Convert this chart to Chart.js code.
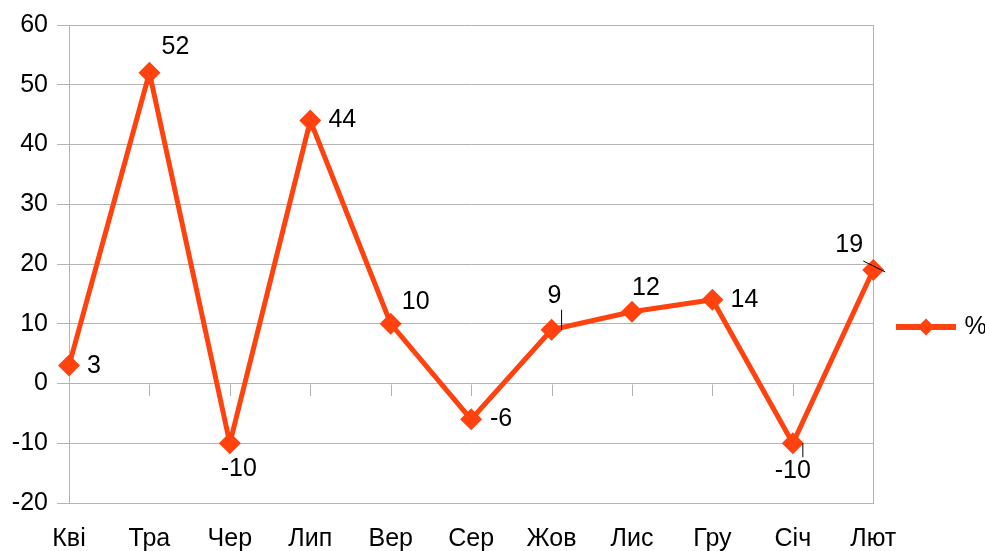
<!DOCTYPE html>
<html>
<head>
<meta charset="utf-8">
<script src="https://cdn.jsdelivr.net/npm/chart.js@4.4.1/dist/chart.umd.min.js"></script>
<style>
  html, body { margin: 0; padding: 0; background: #fff; }
  #wrap { width: 985px; height: 551px; position: relative; }
</style>
</head>
<body>
<div id="wrap"><canvas id="c" width="985" height="551"></canvas></div>
<script>
// Months and monthly change, %
const categories = ['Кві', 'Тра', 'Чер', 'Лип', 'Вер', 'Сер', 'Жов', 'Лис', 'Гру', 'Січ', 'Лют'];
const percentValues = [3, 52, -10, 44, 10, -6, 9, 12, 14, -10, 19];
const seriesName = '%';
const yMin = -20, yMax = 60, yStep = 10;

// Where each value label sits relative to its marker (dx, dy of label centre)
const labelOffsets = [[25, 1], [26, -26], [9, 26], [32, 0], [25, -22], [30, 0], [3, -34], [14, -24], [32, 0], [0, 28], [-24, -25]];
// Short leader lines for a few labels (relative to marker)
const leaderLines = { 6: [10, -20, 10, 0], 9: [10, 0, 10, 14], 10: [-10, -9, 12, 2] };

const SERIES_COLOR = '#ff420e';
const GRID_COLOR = '#b3b3b3';
const FONT = '"Liberation Sans", Arial, sans-serif';
const FONT_SIZE = 25;

// Legend sample: line with a diamond
const legendIcon = document.createElement('canvas');
legendIcon.width = 60; legendIcon.height = 20;
(function () {
  const g = legendIcon.getContext('2d');
  g.strokeStyle = SERIES_COLOR; g.lineWidth = 6;
  g.beginPath(); g.moveTo(0, 10); g.lineTo(60, 10); g.stroke();
  g.fillStyle = SERIES_COLOR;
  g.beginPath(); g.moveTo(30, 1.5); g.lineTo(38.5, 10); g.lineTo(30, 18.5); g.lineTo(21.5, 10); g.closePath(); g.fill();
})();

const frameAndLabels = {
  id: 'frameAndLabels',
  afterLayout(chart) {
    const lg = chart.legend;
    if (!lg) return;
    const h = lg.bottom - lg.top;
    const cy = 327;
    lg.top = cy - h / 2; lg.bottom = cy + h / 2;
    const shift = 900 - (lg.left + 10);
    lg.left += shift; lg.right += shift;
  },
  beforeDatasetsDraw(chart) {
    const { ctx, scales: { x, y } } = chart;
    const y0 = y.getPixelForValue(0);
    ctx.save();
    ctx.strokeStyle = GRID_COLOR; ctx.lineWidth = 1;
    ctx.beginPath();
    categories.forEach((c, i) => {
      const px = Math.round(x.getPixelForValue(i)) + 0.5;
      ctx.moveTo(px, Math.round(y0) + 0.5);
      ctx.lineTo(px, Math.round(y0) + 12);
    });
    ctx.stroke();
    ctx.restore();
  },
  afterDatasetsDraw(chart) {
    const { ctx } = chart;
    const meta = chart.getDatasetMeta(0);
    ctx.save();
    ctx.font = FONT_SIZE + 'px ' + FONT;
    ctx.fillStyle = '#000';
    ctx.textAlign = 'center';
    ctx.textBaseline = 'middle';
    meta.data.forEach((pt, i) => {
      const [dx, dy] = labelOffsets[i];
      ctx.fillText(String(percentValues[i]), pt.x + dx, pt.y + dy);
      const l = leaderLines[i];
      if (l) {
        ctx.strokeStyle = '#000'; ctx.lineWidth = 1;
        ctx.beginPath();
        ctx.moveTo(pt.x + l[0], pt.y + l[1]);
        ctx.lineTo(pt.x + l[2], pt.y + l[3]);
        ctx.stroke();
      }
    });
    ctx.restore();
  }
};

new Chart(document.getElementById('c'), {
  type: 'line',
  data: {
    labels: categories,
    datasets: [{
      label: seriesName,
      data: percentValues,
      borderColor: SERIES_COLOR,
      backgroundColor: SERIES_COLOR,
      borderWidth: 5,
      tension: 0,
      pointStyle: 'rectRot',
      pointRadius: 11,
      pointHoverRadius: 11,
      pointBorderWidth: 0,
      pointBackgroundColor: SERIES_COLOR
    }]
  },
  options: {
    responsive: false,
    animation: false,
    events: [],
    layout: { padding: { top: 25, left: 0, right: 5, bottom: 0 } },
    plugins: {
      legend: {
        position: 'right',
        maxWidth: 107,
        labels: {
          usePointStyle: true,
          pointStyle: legendIcon,
          pointStyleWidth: 52,
          padding: 10,
          color: '#000',
          font: { family: FONT, size: FONT_SIZE },
          generateLabels: () => [{ text: seriesName, pointStyle: legendIcon, fillStyle: SERIES_COLOR, strokeStyle: SERIES_COLOR, lineWidth: 0, hidden: false, datasetIndex: 0 }]
        }
      },
      tooltip: { enabled: false }
    },
    scales: {
      x: {
        offset: false,
        grid: {
          drawTicks: false,
          color: (c) => c.index === categories.length - 1 ? GRID_COLOR : 'rgba(0,0,0,0)'
        },
        border: { color: GRID_COLOR },
        ticks: { color: '#000', font: { family: FONT, size: FONT_SIZE }, padding: 21, maxRotation: 0, autoSkip: false },
        afterFit: (s) => { s.height = 48; }
      },
      y: {
        min: yMin, max: yMax,
        grid: { color: GRID_COLOR, tickLength: 12 },
        border: { color: GRID_COLOR },
        ticks: { stepSize: yStep, color: '#000', font: { family: FONT, size: FONT_SIZE }, padding: 9 },
        afterFit: (s) => { s.width = 69; }
      }
    }
  },
  plugins: [frameAndLabels]
});
</script>
</body>
</html>
